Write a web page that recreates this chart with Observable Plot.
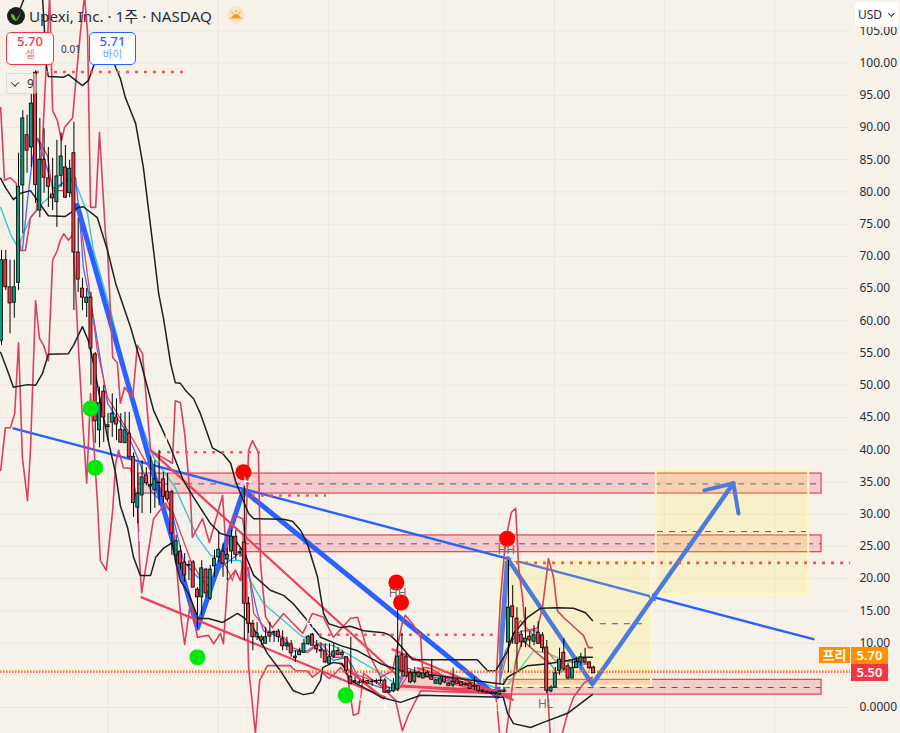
<!DOCTYPE html>
<html><head><meta charset="utf-8">
<script src="https://cdn.jsdelivr.net/npm/d3@7"></script>
<script src="https://cdn.jsdelivr.net/npm/@observablehq/plot@0.6"></script>
<style>
html,body{margin:0;padding:0;background:#f6f2ea;overflow:hidden}
#wrap{position:relative;width:900px;height:733px;font-family:"Noto Sans","Noto Sans CJK KR",sans-serif;color:#2a2e39}
#wrap svg.plot{position:absolute;left:0;top:0;background:#f6f2ea}
.ab{position:absolute;box-sizing:border-box}
.box{background:#fff;border-radius:5px;text-align:center;line-height:1.12}
.box b{display:block;font-weight:500;font-size:13px;margin-top:1px}
.box i{display:block;font-style:normal;font-size:10.5px;opacity:.65}
.tag{color:#fff;font-size:13px;font-weight:600;text-align:center}
</style></head><body><div id="wrap"></div>
<script>
const open=[56.9,69.4,65.2,62.8,65.9,81.0,88.8,86.9,98.5,77.1,85.0,82.1,79.6,78.4,82.5,83.8,79.8,86.0,70.6,65.0,62.8,63.6,54.8,43.0,49.0,43.8,44.2,45.0,43.1,41.0,42.5,38.9,31.0,32.9,36.0,34.5,33.7,34.9,35.4,33.5,33.4,23.6,24.2,22.5,22.1,22.5,18.3,17.1,21.4,16.9,21.9,23.3,24.2,23.0,24.2,26.5,24.1,25.6,16.1,13.0,10.9,10.9,9.9,11.6,11.7,11.8,10.6,9.5,9.8,7.9,8.1,8.5,9.8,11.3,9.6,8.9,8.7,6.8,7.9,8.8,8.5,7.8,4.8,4.1,3.9,4.0,4.1,4.0,4.0,4.1,4.2,2.3,2.5,2.8,8.1,7.8,5.3,4.0,5.4,4.5,5.4,4.8,3.7,3.6,4.7,3.7,3.4,4.2,3.9,3.6,3.7,3.3,3.3,2.6,2.4,2.3,2.3,2.0,2.4,10.1,15.7,13.8,11.3,10.1,11.0,10.2,11.6,11.2,9.3,2.5,3.1,5.7,8.5,6.4,4.5,6.1,7.0,7.6,7.0,6.2];
const high=[70.9,70.9,69.4,69.4,86.0,92.6,91.9,95.1,98.8,91.4,89.8,86.9,85.2,88.0,89.1,87.2,84.9,90.8,75.9,66.6,65.0,64.4,55.1,49.7,50.0,45.6,48.7,47.9,45.6,45.8,45.8,39.5,37.9,38.3,37.2,38.9,38.3,39.9,36.5,36.3,33.7,26.7,25.1,23.9,22.8,22.8,18.6,22.8,21.6,22.0,24.4,27.2,25.4,24.7,27.5,27.5,24.7,34.6,17.1,13.5,13.2,11.2,12.4,13.2,11.9,12.1,11.9,10.9,10.4,8.8,9.2,10.6,11.2,11.5,10.4,9.9,9.9,9.9,9.9,9.3,8.8,7.8,10.9,4.7,4.2,4.4,4.2,4.3,4.4,4.6,4.5,3.1,4.5,15.8,11.5,8.4,5.7,6.2,5.7,6.1,5.7,7.4,4.3,4.7,4.8,3.9,6.1,4.3,4.0,3.8,3.9,4.7,3.4,2.8,2.6,2.5,2.4,2.6,2.9,22.8,18.9,15.5,11.9,15.5,11.8,12.7,13.3,11.6,10.4,3.4,6.2,9.2,10.7,6.8,7.3,7.8,8.4,9.2,7.1,6.4];
const low=[56.2,64.7,58.0,60.4,64.7,73.5,82.9,83.8,78.2,76.0,79.8,77.6,77.1,74.5,80.7,79.0,79.1,61.6,64.4,61.6,60.5,50.0,41.0,40.3,41.1,41.4,41.9,41.4,41.0,41.0,38.6,29.5,28.5,30.1,34.4,30.1,30.9,31.3,31.7,32.0,23.6,22.3,21.3,19.4,19.7,18.6,12.3,14.3,17.1,16.6,20.2,22.5,20.2,19.7,22.3,22.8,23.3,10.4,11.5,8.8,10.4,9.6,9.9,10.1,10.1,10.1,8.8,8.8,7.8,7.0,8.1,8.4,9.6,9.6,8.4,7.6,6.8,6.5,7.6,8.1,7.8,5.4,3.5,3.7,3.6,3.7,3.7,3.3,3.6,3.7,2.2,2.2,2.3,2.6,4.7,4.7,3.7,3.7,4.5,4.5,4.7,4.2,3.6,3.4,3.7,3.3,3.1,3.6,3.4,3.3,2.8,2.6,2.3,2.2,2.1,2.0,1.9,1.9,2.3,5.4,9.8,5.7,9.3,9.3,9.3,9.6,9.8,8.5,2.2,2.3,3.1,5.0,5.7,4.3,4.5,6.1,6.5,6.8,5.9,5.3];
const close=[69.4,65.2,62.7,65.2,80.8,91.4,86.4,93.7,81.1,85.0,82.2,80.8,79.0,82.4,85.5,79.1,83.6,70.6,66.4,63.6,63.6,55.7,44.4,47.2,45.0,43.5,45.6,43.9,41.1,43.0,38.8,31.7,33.2,35.7,34.8,34.3,35.4,34.8,32.7,32.3,27.0,25.8,22.3,20.5,22.0,18.6,17.1,21.6,17.7,21.4,23.1,24.5,22.3,23.7,26.5,23.7,24.0,16.1,13.0,10.9,11.5,10.4,10.9,11.0,11.6,10.9,9.5,9.9,8.4,7.7,8.7,9.9,11.0,9.6,9.0,8.7,7.0,7.8,8.7,8.1,8.1,5.7,3.7,4.0,3.8,3.9,3.7,3.9,4.1,4.2,2.3,2.6,3.6,7.9,5.6,4.8,3.9,5.4,4.7,5.3,4.7,4.3,4.2,4.5,3.9,3.3,4.0,3.7,3.4,3.5,2.9,3.2,2.6,2.4,2.2,2.1,2.1,2.5,2.5,15.5,14.0,9.9,10.1,10.7,10.4,11.2,9.9,9.2,2.6,3.1,5.3,7.4,5.9,4.5,6.1,7.1,7.8,7.0,6.1,5.3];

const yTicks=[0,5,10,15,20,25,30,35,40,45,50,55,60,65,70,75,80,85,90,95,100,105];
const yTickLabels=[0,10,15,20,25,30,35,40,45,50,55,60,65,70,75,80,85,90,95,100,105];
const gridBars=[25,50.9,76.8,103.8,129.8,155.6,181.5];

const bbUpper=[[3.3,106.6],[5.6,110.5],[9.6,110.5],[10.6,99.3],[11.0,97.9],[14.6,97.8],[15.7,98.2],[19.0,96.5],[20.4,97.3],[21.6,99.5],[23.2,102.7],[25.1,102.7],[26.8,99.3],[27.9,97.6],[29.1,94.6],[31.5,90.6],[33.3,83.8],[35.7,70.9],[36.9,64.2],[38.0,60.5],[39.7,53.4],[40.8,50.4],[42.0,50.3],[43.2,49.2],[45.1,47.9],[46.7,45.6],[49.5,40.3],[51.9,39.4],[53.8,37.9],[54.9,35.2],[58.0,30.1],[59.2,29.3],[66.2,29.2],[68.3,28.9],[70.2,27.5],[71.8,25.4],[74.2,20.2],[75.6,14.6],[76.8,13.0],[79.6,12.4],[81.9,12.6],[85.0,11.9],[89.7,11.6],[91.3,11.2],[93.0,10.1],[96.5,7.4],[111.7,7.4],[114.1,5.7],[116.0,5.7],[118.8,8.8],[120.2,11.5],[123.5,14.0],[126.5,15.4],[130.5,15.5],[134.3,15.4],[137.1,14.7],[138.7,13.5]];
const bbLower=[[-0.2,55.1],[1.4,52.3],[2.8,49.7],[6.1,50.1],[8.0,50.0],[9.6,51.8],[11.0,54.8],[15.7,54.9],[16.9,56.2],[19.0,59.1],[20.4,56.9],[21.6,53.4],[23.2,47.6],[24.9,41.9],[26.8,36.3],[27.9,31.3],[29.6,27.9],[31.0,23.3],[32.6,20.5],[35.0,20.5],[36.2,23.3],[38.0,24.7],[40.1,25.6],[40.8,22.8],[42.0,19.7],[43.9,17.7],[46.2,13.8],[48.6,13.8],[51.9,13.2],[55.4,14.6],[56.8,14.0],[58.5,13.0],[60.8,10.4],[62.4,8.4],[65.5,5.7],[68.5,2.6],[70.9,2.0],[73.2,2.3],[74.9,4.2],[75.4,6.2],[77.9,7.0],[80.0,6.8],[81.9,4.2],[87.3,2.3],[89.0,1.6],[93.7,0.8],[98.4,1.9],[117.8,1.6],[118.8,-0.9],[120.2,-2.5],[124.2,-3.1],[127.2,-2.3],[132.9,-0.9],[135.9,0.6],[138.7,2.0]];
const bbMiddle=[[-0.2,82.1],[0.9,80.7],[2.8,78.8],[4.5,79.8],[6.8,80.2],[11.0,76.3],[15.0,76.2],[18.1,77.6],[19.2,77.7],[22.5,76.0],[24.9,70.9],[26.8,65.8],[30.3,59.0],[32.6,53.8],[35.7,46.1],[39.7,40.3],[42.7,35.2],[45.1,32.6],[49.1,28.5],[51.4,27.0],[54.5,26.4],[57.3,23.6],[59.2,20.5],[63.1,18.2],[66.2,17.4],[68.5,16.1],[71.8,13.5],[74.9,10.9],[79.6,9.6],[83.6,8.8],[89.0,6.8],[93.7,5.7],[101.4,5.0],[110.8,4.2],[117.8,3.6],[118.8,4.7],[123.5,6.5],[128.2,6.8],[132.9,7.3],[136.6,7.8],[138.7,7.8]];
const tealAvg=[[-0.2,77.6],[2.1,73.5],[3.8,71.4],[6.8,76.0],[9.6,78.2],[12.2,79.8],[15.5,82.2],[17.8,80.7],[20.2,76.6],[21.6,70.9],[25.6,61.6],[31.0,47.2],[35.7,38.8],[40.8,34.1],[46.0,26.4],[49.1,23.6],[53.8,22.8],[56.1,22.8],[58.0,20.2],[61.5,16.1],[66.2,13.5],[70.2,11.2],[74.2,9.9],[77.9,9.6],[82.6,7.8],[89.0,5.3],[93.0,3.4],[94.4,5.7],[98.4,5.3],[110.1,4.5],[117.8,2.6],[124.9,8.8],[128.2,8.4],[132.9,7.1],[137.6,6.8]];
const blueAvg=[[4.9,70.9],[6.1,78.7],[7.3,85.3],[8.5,88.3],[9.9,85.3],[12.2,80.5],[15.5,81.8],[17.4,82.2],[18.5,74.8],[19.2,68.3],[21.6,60.5],[24.9,47.2],[29.6,42.5],[31.9,38.8],[35.0,33.7],[40.1,30.1],[42.7,22.8],[45.1,20.8],[49.1,18.6],[51.4,21.7],[56.1,24.1],[57.7,21.7],[60.1,14.6],[61.5,11.9],[65.5,10.9],[68.5,8.8],[71.8,8.8],[74.2,9.9],[77.9,7.3],[81.2,7.8],[84.3,4.2],[89.0,3.1],[93.0,3.1],[95.3,6.1],[101.4,4.7],[112.4,2.9],[116.4,2.6],[118.3,8.8],[121.1,11.5],[122.3,11.9],[125.8,11.9],[128.2,7.3],[130.5,5.3],[133.6,6.2],[137.8,6.8]];
const redAvg=[[8.5,88.3],[10.8,85.6],[12.0,80.2],[16.2,80.2],[18.5,75.6],[22.5,55.4],[24.9,48.1],[28.6,44.1],[31.0,41.4],[35.0,36.8],[40.1,30.6],[44.4,22.8],[46.7,20.2],[49.8,20.2],[52.1,22.8],[54.2,19.7],[54.9,21.3],[56.1,19.7],[58.0,21.7],[59.2,14.6],[62.4,11.9],[66.2,10.9],[68.5,9.2],[71.8,8.5],[74.9,10.1],[77.9,7.8],[81.2,7.8],[82.6,5.3],[89.0,3.7],[93.0,2.6],[95.8,5.4],[112.4,2.6],[116.4,2.6],[119.5,10.4],[121.8,13.5],[130.0,7.3],[138.3,6.8]];
const envelopeOne=[[-0.2,93.1],[0.7,81.8],[2.1,82.2],[3.5,81.3],[3.8,76.0],[4.5,70.9],[5.6,70.9],[6.8,76.0],[8.2,77.1],[9.6,87.5],[11.3,110.5],[12.0,92.6],[13.1,91.1],[14.1,88.0],[14.8,90.0],[16.7,91.5],[17.4,96.8],[18.5,104.6],[19.5,110.5],[20.2,104.6],[20.9,77.6],[22.1,77.6],[23.0,89.2],[24.4,73.5],[24.9,70.9],[26.1,54.3],[27.2,53.5],[27.9,47.2],[28.9,49.7],[30.8,48.1],[31.9,56.2],[33.1,54.9],[35.0,39.9],[40.1,37.9],[40.8,47.6],[42.0,47.3],[43.0,42.5],[44.4,32.1],[44.8,26.4],[47.2,29.3],[48.8,25.6],[51.9,32.9],[52.8,23.6],[53.8,28.5],[54.9,29.8],[56.6,29.3],[57.3,26.4],[58.0,6.2],[59.6,-4.0],[60.6,4.2],[62.4,6.5],[67.8,6.5],[69.0,5.7],[71.8,5.7],[73.0,4.7],[74.9,5.7],[76.8,4.5],[77.9,5.0],[79.6,6.2],[81.2,5.0],[82.6,-1.2],[83.8,-0.9],[85.0,5.3],[89.0,3.4],[92.5,1.1],[94.1,-3.6],[95.5,-1.2],[98.4,2.6],[116.0,2.2],[117.1,-5.1],[118.3,-5.1],[120.7,7.3],[122.3,10.4],[127.7,7.3],[128.9,-5.1],[131.2,-5.1],[132.9,-0.9],[134.3,1.6],[136.6,3.7],[138.7,4.7]];
const envelopeTwo=[[-0.2,36.8],[0.9,43.4],[2.1,43.4],[3.1,45.6],[4.0,56.6],[4.9,38.8],[6.1,32.1],[6.8,39.9],[8.0,63.1],[8.9,57.3],[9.9,56.2],[11.0,53.8],[12.0,69.4],[13.1,70.9],[13.8,72.5],[14.6,73.5],[15.7,72.5],[16.9,73.5],[17.1,68.3],[18.1,55.4],[19.0,45.0],[20.0,34.8],[20.9,48.7],[22.5,32.1],[23.2,22.8],[24.6,21.3],[26.1,30.6],[26.8,37.9],[27.5,39.9],[28.6,37.2],[30.3,37.1],[31.9,32.1],[32.4,22.8],[32.9,17.8],[35.7,29.3],[38.5,31.7],[40.1,30.1],[42.0,14.6],[43.0,9.8],[44.4,16.6],[46.0,10.9],[48.6,11.2],[49.8,9.9],[51.4,11.5],[52.1,9.9],[53.1,19.7],[54.9,21.3],[56.1,19.7],[57.3,26.7],[58.0,39.9],[58.9,41.4],[60.3,39.6],[60.8,22.3],[62.0,14.0],[63.6,12.4],[66.2,14.6],[68.5,13.0],[70.7,11.5],[73.0,14.6],[75.6,14.0],[77.9,10.9],[81.9,13.8],[83.6,14.0],[85.9,8.8],[89.0,4.7],[91.8,5.7],[94.1,13.2],[94.8,14.3],[96.5,13.0],[98.4,10.9],[98.8,6.2],[100.7,6.1],[105.4,4.2],[116.0,2.6],[117.1,16.6],[118.3,25.9],[119.7,30.3],[120.7,30.9],[121.4,21.7],[122.3,17.1],[123.0,11.9],[125.8,12.3],[127.0,15.5],[128.4,23.1],[129.6,20.2],[130.5,15.0],[131.9,14.0],[133.6,13.0],[134.7,12.3],[136.6,11.2],[137.8,9.3],[138.7,9.3]];

const zigzagDown=[[17.8,77.9],[46.0,12.3],[56.8,33.7],[116.4,1.7],[118.8,23.1]];
const projection=[[118.8,23.1],[138.7,3.6],[171.8,34.8]];
const arrowHead=[[165.0,33.7],[171.8,34.8],[173.0,30.1]];
const trendline=[[2.8,43.3],[190.6,10.6]];
const trendTip=[[152.9,17.2]];
const channelLines=[
  [[32.9,17.1],[90.1,1.6]],
  [[35.0,39.9],[93.7,4.5]],
  [[91.8,9.0],[120.0,1.2]],
  [[94.4,3.4],[119.5,2.0]],
  [[97.7,6.1],[119.5,1.6]],
  [[79.6,6.8],[89.7,1.4]],
  [[93.2,3.3],[118.3,2.6]]
];
const bands=[
  {x1:32.2,x2:192.5,top:36.3,bottom:33.2,mid:34.7},
  {x1:56.8,x2:192.5,top:26.7,bottom:24.1,mid:25.4},
  {x1:118.0,x2:192.5,top:4.3,bottom:2.0,mid:3.1}
];
const wedgeBars=[92.5,116.4], wedgeTop=[5.7,2.3], wedgeBottom=[2.6,1.7];
const boxes=[
  {x1:116.7,x2:152.6,top:22.8,bottom:3.3},
  {x1:153.7,x2:189.5,top:36.9,bottom:17.5}
];
const boxDashes=[{x1:140.6,x2:151.4,y:13.0},{x1:154,x2:189,y:27.3}];
const dottedLevels=[
  {x1:8.2,x2:43.0,y:98.6},{x1:36.9,x2:60.8,y:39.6},{x1:56.8,x2:76.3,y:32.9},
  {x1:72.5,x2:115.5,y:11.3},{x1:118.8,x2:199.3,y:22.45}
];
const greenDots=[[46.0,7.8],[80.8,1.9],[20.9,46.4],[22.0,37.2]];
const redDots=[[56.8,36.5],[92.7,19.4],[93.8,16.3],[118.7,26.2]];
const grayLabels=[["HH",93.0,17.8],["HH",118.5,24.4],["HL",127.7,0.6]];
const whiteLabels=[["LH",37.3,41.5],["L",32.7,26.5],["H",45.5,9.5],["L",59,6.8],["H",72.5,13],["L",84.4,1.8],["H",57.8,35],["L",90.3,0.3],["L",116.4,0]];
const lastPrice=5.70, preClose=5.50, endBar=199.3;

const candles=open.map((o,i)=>({i,o,h:high[i],l:low[i],c:close[i]}));
const UP="#089981",DOWN="#f23645",CRIMSON="#d9415f",BLUE="#2962ff",MUTED="#4c7bdd",BLACK="#1c2020",PINK="#f23645";
const line=(arr,o)=>Plot.line(arr,{x:"0",y:"1",clip:"frame",...o});
const X=d=>d[0],Y=d=>d[1];

const chart=Plot.plot({
  width:900,height:733,marginLeft:0,marginRight:50,marginTop:0,marginBottom:0,
  style:{background:"#f6f2ea",fontFamily:'"Noto Sans",sans-serif'},
  x:{domain:[-0.235,199.3],axis:null},
  y:{domain:[-4.03,109.7]},
  marks:[
    Plot.ruleY(yTicks,{stroke:"#ebe6dd",strokeWidth:1}),
    Plot.ruleX(gridBars,{stroke:"#ebe6dd",strokeWidth:1}),
    Plot.axisY(yTickLabels,{anchor:"right",tickSize:0,tickPadding:9,label:null,fontSize:12,fill:"#2a2e39",tickFormat:d=>d===0?"0.0000":d.toFixed(2)}),
    Plot.areaY(wedgeBars.map((b,i)=>({b,t:wedgeTop[i],u:wedgeBottom[i]})),{x:"b",y1:"t",y2:"u",fill:PINK,fillOpacity:.2}),
    Plot.rect(bands,{x1:"x1",x2:"x2",y1:"top",y2:"bottom",fill:PINK,fillOpacity:.2,stroke:"#e63e52",strokeWidth:1.2}),
    Plot.ruleY(bands,{x1:"x1",x2:"x2",y:"mid",stroke:"#6c3fb5",strokeWidth:1,strokeDasharray:"6 6"}),
    line(tealAvg,{stroke:"#3cc5d6",strokeWidth:1.4}),
    line(blueAvg,{stroke:"#3d6ef5",strokeWidth:1.3}),
    line(redAvg,{stroke:"#e8405a",strokeWidth:1.3}),
    line(zigzagDown,{stroke:BLUE,strokeWidth:5}),
    line(trendline,{stroke:BLUE,strokeWidth:2.4}),
    Plot.dot(trendTip,{x:X,y:Y,symbol:"triangle",r:3.5,fill:BLUE,stroke:"none",rotate:-90}),
    Plot.rect(boxes,{x1:"x1",x2:"x2",y1:"top",y2:"bottom",fill:"#ffe940",fillOpacity:.2,stroke:"#fff7c2",strokeWidth:2}),
    Plot.ruleY(boxDashes,{x1:"x1",x2:"x2",y:"y",stroke:"#6c3fb5",strokeWidth:1,strokeDasharray:"6 6"}),
    line(projection,{stroke:MUTED,strokeWidth:4.5}),
    line(arrowHead,{stroke:MUTED,strokeWidth:4,strokeLinecap:"round"}),
    ...channelLines.map(c=>line(c,{stroke:"#f0405a",strokeWidth:2.3})),
    line(envelopeOne,{stroke:CRIMSON,strokeWidth:1.6}),
    line(envelopeTwo,{stroke:CRIMSON,strokeWidth:1.6}),
    line(bbUpper,{stroke:BLACK,strokeWidth:1.5}),
    line(bbMiddle,{stroke:BLACK,strokeWidth:1.5}),
    line(bbLower,{stroke:BLACK,strokeWidth:1.5}),
    Plot.ruleY(dottedLevels,{x1:"x1",x2:"x2",y:"y",stroke:"#ff5252",strokeWidth:2.6,strokeDasharray:"3 6"}),
    Plot.ruleY([lastPrice],{x1:-0.235,x2:endBar,stroke:"#ff9800",strokeWidth:1.2,strokeDasharray:"1.5 1.5"}),
    Plot.ruleY([preClose],{x1:-0.235,x2:endBar,stroke:"#f23645",strokeWidth:1.2,strokeDasharray:"1.5 1.5"}),
    Plot.ruleX(candles,{x:"i",y1:"l",y2:"h",stroke:"#000",strokeWidth:1,clip:"frame"}),
    Plot.rect(candles,{x1:d=>d.i-.36,x2:d=>d.i+.36,y1:d=>d.o,y2:d=>d.c,fill:d=>d.c>=d.o?UP:DOWN,stroke:"#000",strokeWidth:.8}),
    Plot.dot(greenDots,{x:X,y:Y,r:8,fill:"#00e80c",stroke:"none"}),
    Plot.dot(redDots,{x:X,y:Y,r:8,fill:"#ff0000",stroke:"none"}),
    Plot.text(grayLabels,{x:d=>d[1],y:d=>d[2],text:d=>d[0],fill:"#6f6f6f",fontSize:12}),
    Plot.text(whiteLabels,{x:d=>d[1],y:d=>d[2],text:d=>d[0],fill:"#ffffff",fontSize:12})
  ]
});
const wrap=document.getElementById("wrap");
wrap.appendChild(chart);
const div=(css,html,cls)=>{const e=document.createElement("div");e.className="ab "+(cls||"");e.style.cssText=css;e.innerHTML=html;wrap.appendChild(e);return e};
div("left:7px;top:7px;width:18px;height:18px",'<svg width="18" height="18" viewBox="0 0 18 18"><circle cx="9" cy="9" r="9" fill="#1a1d1c"/><path d="M4 7c3 0 4 2 5 6 2-3 4-6 5-9-1 4-2 8-5 10-3-1-5-3-5-7z" fill="#69b52a"/></svg>');
div("left:29px;top:5px;font-size:15.2px;line-height:22px;white-space:nowrap;color:#2a2e39",'Upexi, Inc. · 1주 · NASDAQ');
div("left:227px;top:6px;width:18px;height:18px",'<svg width="18" height="18" viewBox="0 0 18 18"><circle cx="9" cy="9" r="9" fill="#fbe3c6"/><path d="M5 12a4 4 0 0 1 8 0z" fill="#f59a23"/><path d="M3 12h12M9 4v2M4.5 6l1.3 1.3M13.5 6l-1.3 1.3" stroke="#f59a23" stroke-width="1.2"/></svg>');
div("left:6px;top:32px;width:48px;height:33px;border:1px solid #f23645;color:#f23645",'<b>5.70</b><i>셀</i>',"box");
div("left:61px;top:42px;font-size:10px;line-height:14px;color:#333","0.01");
div("left:89px;top:32px;width:47px;height:33px;border:1px solid #2962ff;color:#2962ff",'<b>5.71</b><i>바이</i>',"box");
div("left:6px;top:73px;width:31px;height:21px;border:1px solid rgba(0,0,0,.1);border-radius:3px;background:rgba(246,242,234,.55);font-size:12px;line-height:20px;padding-left:20px;color:#333","9");
div("left:12px;top:81px;width:6px;height:6px;border-right:1.3px solid #333;border-bottom:1.3px solid #333;transform:rotate(45deg) translate(-1px,-1px)","");
div("left:855px;top:2px;width:44px;height:25px;background:#fff;border-radius:4px;font-size:12px;line-height:25px;padding-left:3px;color:#1f2a44;z-index:2","USD");
div("left:889px;top:11px;width:5px;height:5px;border-right:1.2px solid #333;border-bottom:1.2px solid #333;transform:rotate(45deg);z-index:3","");
div("left:819px;top:647px;width:31px;height:16px;background:#ff9100;line-height:16px","프리","tag");
div("left:851px;top:647px;width:37px;height:17px;background:#ff9100;line-height:17px","5.70","tag");
div("left:851px;top:664px;width:37px;height:17px;background:#f23645;line-height:17px","5.50","tag");
</script></body></html>
